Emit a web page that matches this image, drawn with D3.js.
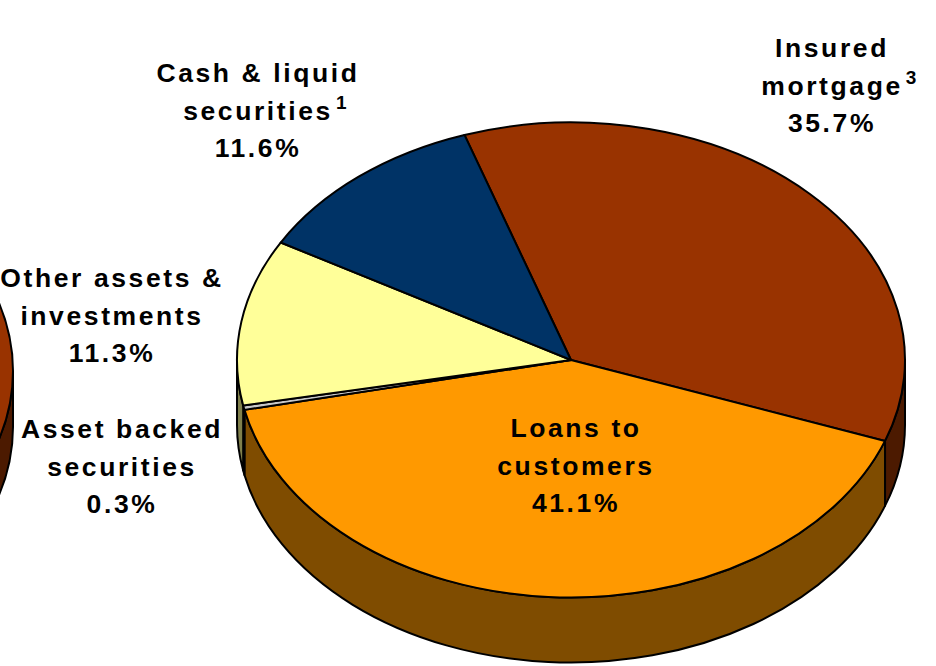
<!DOCTYPE html>
<html>
<head>
<meta charset="utf-8">
<script src="https://cdn.jsdelivr.net/npm/d3@7/dist/d3.min.js"></script>
<style>
  html, body { margin: 0; padding: 0; background: #ffffff; }
  svg { display: block; }
  text { font-family: "Liberation Sans", Arial, Helvetica, sans-serif; font-weight: bold; fill: #000; }
</style>
</head>
<body>
<svg id="chart" width="936" height="666"></svg>
<script>
// Asset mix, share of total (%)
const categories = ["Insured mortgage", "Loans to customers", "Asset backed securities", "Other assets & investments", "Cash & liquid securities"];
const shares = [35.7, 41.1, 0.3, 11.3, 11.6];
const topColors = ["#993300", "#FF9900", "#C8C8C8", "#FFFF99", "#003366"];
const sideColors = ["#4C1A00", "#7F4C00", "#646464", "#80804C", "#001A33"];
// Label wording (one entry per category); the last line shows the share
const labelText = [
  [["Insured"], ["mortgage", "3"]],
  [["Loans to"], ["customers"]],
  [["Asset backed"], ["securities"]],
  [["Other assets &"], ["investments"]],
  [["Cash & liquid"], ["securities", "1"]]
];

// ---- layout ----
const W = 936, H = 666;
const cx = 571, cy = 360, rx = 334, ry = 237.5, depth = 65;
const startTilt = -18.6;        // degrees, clockwise from 12 o'clock
const labelAnchor = [[832, 57], [576, 437], [122, 438], [112, 287], [258, 82]];
const lineGap = 37.5;

const svg = d3.select("#chart");

const toT = a => a - Math.PI / 2;                       // pie angle -> ellipse parameter
const pt = (t, dy = 0, c = [cx, cy]) => [c[0] + rx * Math.cos(t), c[1] + ry * Math.sin(t) + dy];
const f = v => v.toFixed(2);

function sidePath(t1, t2, c, dep) {
  const a = pt(t1, 0, c), b = pt(t2, 0, c), b2 = pt(t2, dep, c), a2 = pt(t1, dep, c);
  const large = (t2 - t1) > Math.PI ? 1 : 0;
  return `M${f(a[0])},${f(a[1])}A${rx},${ry} 0 ${large} 1 ${f(b[0])},${f(b[1])}` +
         `L${f(b2[0])},${f(b2[1])}A${rx},${ry} 0 ${large} 0 ${f(a2[0])},${f(a2[1])}Z`;
}
function topPath(t1, t2, c) {
  const a = pt(t1, 0, c), b = pt(t2, 0, c);
  const large = (t2 - t1) > Math.PI ? 1 : 0;
  return `M${c[0]},${c[1]}L${f(a[0])},${f(a[1])}A${rx},${ry} 0 ${large} 1 ${f(b[0])},${f(b[1])}Z`;
}
// portions of [t1,t2] lying on the front half of the ellipse (0..PI)
function frontParts(t1, t2) {
  const out = [];
  for (let k = -2; k <= 2; k++) {
    const s = Math.max(t1 + 2 * Math.PI * k, 0), e = Math.min(t2 + 2 * Math.PI * k, Math.PI);
    if (e - s > 1e-6) out.push([s, e]);
  }
  return out;
}

// ---- neighbouring pie, cut off at the left edge ----
const nb = [-321, 371], nbDepth = 56;
const gNb = svg.append("g");
gNb.append("path").attr("d", sidePath(0, Math.PI, nb, nbDepth))
  .attr("fill", sideColors[0]).attr("stroke", "#000").attr("stroke-width", 2);
gNb.append("ellipse").attr("cx", nb[0]).attr("cy", nb[1]).attr("rx", rx).attr("ry", ry)
  .attr("fill", topColors[0]).attr("stroke", "#000").attr("stroke-width", 2);

// ---- main 3D pie ----
const pie = d3.pie().sort(null).value(d => d)
  .startAngle(startTilt * Math.PI / 180)
  .endAngle(startTilt * Math.PI / 180 + 2 * Math.PI);
const arcs = pie(shares);

const gSide = svg.append("g");
arcs.forEach((d, i) => {
  frontParts(toT(d.startAngle), toT(d.endAngle)).forEach(([s, e]) => {
    gSide.append("path").attr("d", sidePath(s, e, [cx, cy], depth))
      .attr("fill", sideColors[i]).attr("stroke", "#000")
      .attr("stroke-width", 2).attr("stroke-linejoin", "round");
  });
});

const gTop = svg.append("g");
arcs.forEach((d, i) => {
  gTop.append("path").attr("d", topPath(toT(d.startAngle), toT(d.endAngle), [cx, cy]))
    .attr("fill", topColors[i]).attr("stroke", "#000")
    .attr("stroke-width", 2).attr("stroke-linejoin", "round");
});

// ---- labels ----
const gLab = svg.append("g");
const pctFmt = d3.format(".1f");
labelText.forEach((lines, i) => {
  const [lx, ly] = labelAnchor[i];
  const all = lines.concat([[pctFmt(shares[i]) + "%"]]);
  all.forEach(([txt, sup], j) => {
    const t = gLab.append("text")
      .attr("x", lx).attr("y", ly + j * lineGap)
      .attr("text-anchor", "middle")
      .attr("font-size", 26.5).attr("letter-spacing", 2.6)
      .text(txt);
    if (sup) {
      const bb = t.node().getBBox();
      gLab.append("text")
        .attr("x", bb.x + bb.width + 3).attr("y", ly + j * lineGap - 11)
        .attr("font-size", 19)
        .text(sup);
    }
  });
});
</script>
</body>
</html>
